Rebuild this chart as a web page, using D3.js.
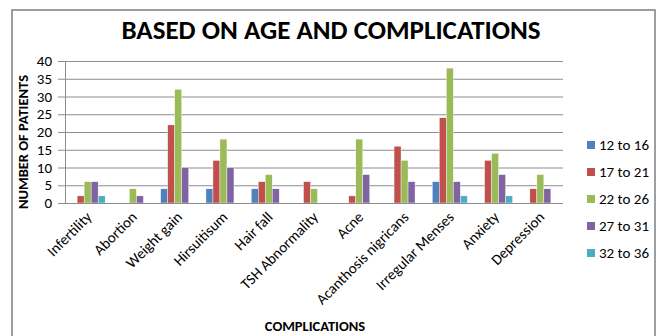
<!DOCTYPE html>
<html>
<head>
<meta charset="utf-8">
<script src="https://cdn.jsdelivr.net/npm/d3@7"></script>
<style>
  body { margin: 0; background: #fff; }
  text { font-family: Carlito, Calibri, "Liberation Sans", sans-serif; }
</style>
</head>
<body>
<div id="viz"></div>
<script>
const w = 661;
const h = 336;

const categories = ['Infertility', 'Abortion', 'Weight gain', 'Hirsuitisum', 'Hair fall',
  'TSH Abnormality', 'Acne', 'Acanthosis nigricans', 'Irregular Menses', 'Anxiety', 'Depression'];
const seriesNames = ['12 to 16', '17 to 21', '22 to 26', '27 to 31', '32 to 36'];
const s12to16 = [0, 0, 4, 4, 4, 0, 0, 0, 6, 0, 0];
const s17to21 = [2, 0, 22, 12, 6, 6, 2, 16, 24, 12, 4];
const s22to26 = [6, 4, 32, 18, 8, 4, 18, 12, 38, 14, 8];
const s27to31 = [6, 2, 10, 10, 4, 0, 8, 6, 6, 8, 4];
const s32to36 = [2, 0, 0, 0, 0, 0, 0, 0, 2, 2, 0];
const yTicks = [0, 5, 10, 15, 20, 25, 30, 35, 40];
const colors = ['#4F81BD', '#C0504D', '#9BBB59', '#8064A2', '#4BACC6'];

const series = [s12to16, s17to21, s22to26, s27to31, s32to36];

const svg = d3.select('#viz').append('svg')
    .attr('width', w)
    .attr('height', h)

// chart frame
svg.append('rect')
    .attr('x', 12).attr('y', 10)
    .attr('width', 643).attr('height', 340)
    .attr('fill', 'none')
    .attr('stroke', '#7f7f7f')
    .attr('stroke-width', 1.5)

const plot = { left: 65, right: 563, top: 61, bottom: 203 };

const x = d3.scaleBand()
    .domain(categories)
    .range([plot.left, plot.right])

const xInner = d3.scaleBand()
    .domain(seriesNames)
    .range([0, 35])

const y = d3.scaleLinear()
    .domain([0, 40])
    .range([plot.bottom, plot.top])

// gridlines
svg.append('g')
    .selectAll('line')
    .data(yTicks)
    .join('line')
    .attr('x1', plot.left - 7)
    .attr('x2', plot.right)
    .attr('y1', d => y(d) + 0.5)
    .attr('y2', d => y(d) + 0.5)
    .attr('stroke', '#8c8c8c')
    .attr('stroke-width', 1)

svg.append('line')
    .attr('x1', plot.left + 0.5).attr('x2', plot.left + 0.5)
    .attr('y1', plot.top).attr('y2', plot.bottom)
    .attr('stroke', '#8c8c8c')

// y tick labels
svg.append('g')
    .selectAll('text')
    .data(yTicks)
    .join('text')
    .attr('x', 52)
    .attr('y', d => y(d) + 5)
    .attr('text-anchor', 'end')
    .attr('font-size', 15)
    .attr('fill', '#000')
    .text(d => d)

// bars
const groups = svg.append('g')
    .selectAll('g')
    .data(categories)
    .join('g')
    .attr('transform', d => `translate(${x(d) + (x.bandwidth() - 35) / 2},0)`)

groups.selectAll('rect')
    .data((c, i) => series.map((s, j) => ({ name: seriesNames[j], value: s[i], color: colors[j] })))
    .join('rect')
    .attr('x', d => xInner(d.name))
    .attr('width', xInner.bandwidth())
    .attr('y', d => y(d.value))
    .attr('height', d => y(0) - y(d.value))
    .attr('fill', d => d.color)
    .attr('stroke', '#fff')
    .attr('stroke-width', 0.4)

// bottom axis line
svg.append('line')
    .attr('x1', plot.left).attr('x2', plot.right)
    .attr('y1', plot.bottom + 0.5).attr('y2', plot.bottom + 0.5)
    .attr('stroke', '#8c8c8c')

// x labels, rotated
svg.append('g')
    .selectAll('text')
    .data(categories)
    .join('text')
    .attr('transform', d => `translate(${x(d) + x.bandwidth() / 2 + 5},${plot.bottom + 15}) rotate(-45)`)
    .attr('text-anchor', 'end')
    .attr('font-size', 15)
    .attr('fill', '#000')
    .text(d => d)

// title
svg.append('text')
    .attr('x', 331)
    .attr('y', 39)
    .attr('text-anchor', 'middle')
    .attr('font-size', 27)
    .attr('font-weight', 'bold')
    .text('BASED ON AGE AND COMPLICATIONS')

// axis titles
svg.append('text')
    .attr('x', 315)
    .attr('y', 331)
    .attr('text-anchor', 'middle')
    .attr('font-size', 14.5)
    .attr('font-weight', 'bold')
    .text('COMPLICATIONS')

svg.append('text')
    .attr('transform', `translate(28,142) rotate(-90)`)
    .attr('text-anchor', 'middle')
    .attr('font-size', 14.5)
    .attr('font-weight', 'bold')
    .text('NUMBER OF PATIENTS')

// legend
const legend = svg.append('g')
    .selectAll('g')
    .data(seriesNames)
    .join('g')
    .attr('transform', (d, i) => `translate(587,${145 + i * 27})`)

legend.append('rect')
    .attr('x', 0).attr('y', -4)
    .attr('width', 8).attr('height', 8)
    .attr('fill', (d, i) => colors[i])

legend.append('text')
    .attr('x', 12)
    .attr('y', 5)
    .attr('font-size', 15)
    .text(d => d)
</script>
</body>
</html>
